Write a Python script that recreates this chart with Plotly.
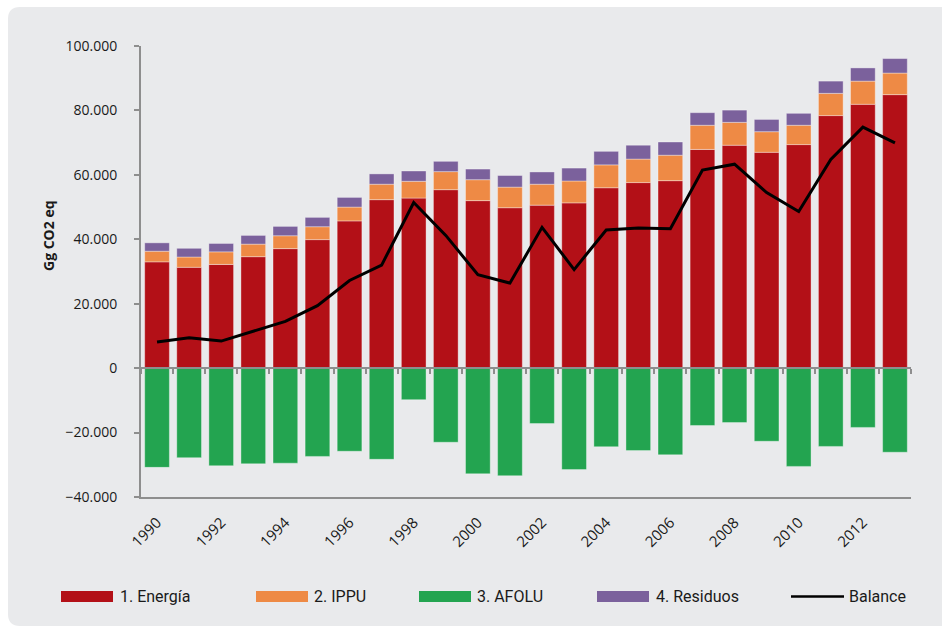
import plotly.graph_objects as go

years = list(range(1990, 2014))
energia = [33.0, 31.3, 32.2, 34.6, 37.1, 39.9, 45.7, 52.3, 52.8, 55.4, 52.0, 49.8,
           50.6, 51.3, 56.0, 57.6, 58.2, 67.9, 69.2, 67.0, 69.4, 78.4, 81.9, 84.9]
ippu = [3.3, 3.2, 3.9, 3.9, 4.0, 4.0, 4.3, 4.8, 5.2, 5.6, 6.5, 6.4,
        6.5, 6.8, 7.1, 7.3, 7.9, 7.5, 7.1, 6.4, 6.0, 6.9, 7.2, 6.7]
afolu = [-30.8, -27.8, -30.3, -29.7, -29.5, -27.4, -25.8, -28.3, -9.8, -23.0, -32.8, -33.4,
         -17.2, -31.5, -24.4, -25.6, -26.9, -17.8, -16.9, -22.7, -30.5, -24.3, -18.4, -26.1]
residuos = [2.6, 2.7, 2.6, 2.7, 2.9, 2.9, 3.0, 3.2, 3.2, 3.2, 3.3, 3.6,
            3.8, 4.0, 4.2, 4.3, 4.1, 3.9, 3.8, 3.8, 3.7, 3.8, 4.1, 4.5]
balance = [8.1, 9.4, 8.4, 11.5, 14.5, 19.4, 27.2, 32.0, 51.4, 41.2, 29.0, 26.4,
           43.7, 30.6, 42.9, 43.5, 43.3, 61.5, 63.3, 54.5, 48.6, 64.8, 74.8, 69.9]
tick_years = list(range(1990, 2013, 2))
y_ticks = [-40000, -20000, 0, 20000, 40000, 60000, 80000, 100000]

names = ["1. Energía", "2. IPPU", "3. AFOLU", "4. Residuos", "Balance"]
colors = ["#B31017", "#EE8A45", "#23A450", "#7B619C", "#000000"]

K = 1000  # values read in thousands of Gg

W, H = 942, 627
L, R, T, B = 141, 31, 46, 130
PW, PH = W - L - R, H - T - B


def px(x):
    return (x - L) / PW


def py(y):
    return (H - B - y) / PH


fig = go.Figure()
for vals, name, col in zip([energia, ippu, afolu, residuos], names[:4], colors[:4]):
    fig.add_trace(go.Bar(
        x=years, y=[v * K for v in vals], name=name, width=0.77,
        marker=dict(color=col, line=dict(color="rgba(255,255,255,0.35)", width=1)),
        showlegend=False,
    ))
fig.add_trace(go.Scatter(
    x=years, y=[v * K for v in balance], name="Balance", mode="lines",
    line=dict(color="#000000", width=3), showlegend=False,
))

# background card with rounded left corners
x0, x1 = px(8), px(950)
yt, yb = py(7), py(626)
rx, ry = 12 / PW, 12 / PH
card = (f"M {x0+rx},{yt} L {x1},{yt} L {x1},{yb} L {x0+rx},{yb} "
        f"Q {x0},{yb} {x0},{yb+ry} L {x0},{yt-ry} Q {x0},{yt} {x0+rx},{yt} Z")
shapes = [dict(type="path", path=card, xref="paper", yref="paper",
               fillcolor="#E9EAEC", line=dict(width=0), layer="below")]

# custom legend
leg_x = [61, 256, 419, 597, 791]
leg_text_x = [118, 312, 475, 654, 847]
annotations = []
for i, (name, col) in enumerate(zip(names, colors)):
    if i < 4:
        shapes.append(dict(type="rect", xref="paper", yref="paper",
                           x0=px(leg_x[i]), x1=px(leg_x[i] + 52),
                           y0=py(602), y1=py(591), fillcolor=col, line=dict(width=0)))
    else:
        shapes.append(dict(type="line", xref="paper", yref="paper",
                           x0=px(leg_x[i]), x1=px(leg_x[i] + 53),
                           y0=py(596.5), y1=py(596.5), line=dict(color=col, width=2.5)))
    annotations.append(dict(text=name, x=px(leg_text_x[i]), y=py(596.5), xref="paper", yref="paper",
                            xanchor="left", yanchor="middle", showarrow=False,
                            font=dict(family="Roboto", size=16, color="#1a1a1a")))

annotations.append(dict(text="Gg CO2 eq", x=px(48), y=py(236), xref="paper", yref="paper",
                        textangle=-90, showarrow=False, xanchor="center", yanchor="middle",
                        font=dict(family="Open Sans", size=14, color="#1a1a1a", weight="bold")))

axis_col = "#8E8E8E"
fig.update_layout(
    width=W, height=H,
    margin=dict(l=L, r=R, t=T, b=B, pad=0),
    paper_bgcolor="#FFFFFF", plot_bgcolor="rgba(0,0,0,0)",
    barmode="relative", bargap=0.2,
    separators=",.",
    font=dict(family="Open Sans", color="#1a1a1a"),
    shapes=shapes, annotations=annotations,
    xaxis=dict(range=[1989.5, 2013.5], tickmode="array", tickvals=tick_years,
               ticktext=[str(y) for y in tick_years], tickangle=-45,
               showline=True, linecolor=axis_col, linewidth=2, showgrid=False, zeroline=False,
               ticks="outside", ticklen=9, tickcolor="rgba(0,0,0,0)",
               tickfont=dict(size=15, color="#1a1a1a")),
    xaxis2=dict(range=[1989.5, 2013.5], overlaying="x", anchor="free",
                position=40000 / 140000, side="bottom",
                tickmode="array", tickvals=[1989.5 + k for k in range(25)],
                showticklabels=False, ticks="outside", ticklen=5, tickwidth=2, tickcolor=axis_col,
                showline=True, linecolor=axis_col, linewidth=2, showgrid=False, zeroline=False),
    yaxis=dict(range=[-40000, 100000], tickmode="array", tickvals=y_ticks,
               tickformat=",d", showline=True, linecolor=axis_col, linewidth=2,
               ticks="outside", ticklen=5, tickwidth=2, tickcolor=axis_col,
               showgrid=False, zeroline=False, ticklabelstandoff=14,
               tickfont=dict(size=14, color="#1a1a1a")),
)
# dummy trace to activate xaxis2
fig.add_trace(go.Scatter(x=[1989.5], y=[0], xaxis="x2", mode="markers",
                         marker=dict(opacity=0), showlegend=False, hoverinfo="skip"))

fig.write_html("out.html", config={"displayModeBar": False},
               post_script="document.body.style.margin='0';document.body.style.overflow='hidden';")
